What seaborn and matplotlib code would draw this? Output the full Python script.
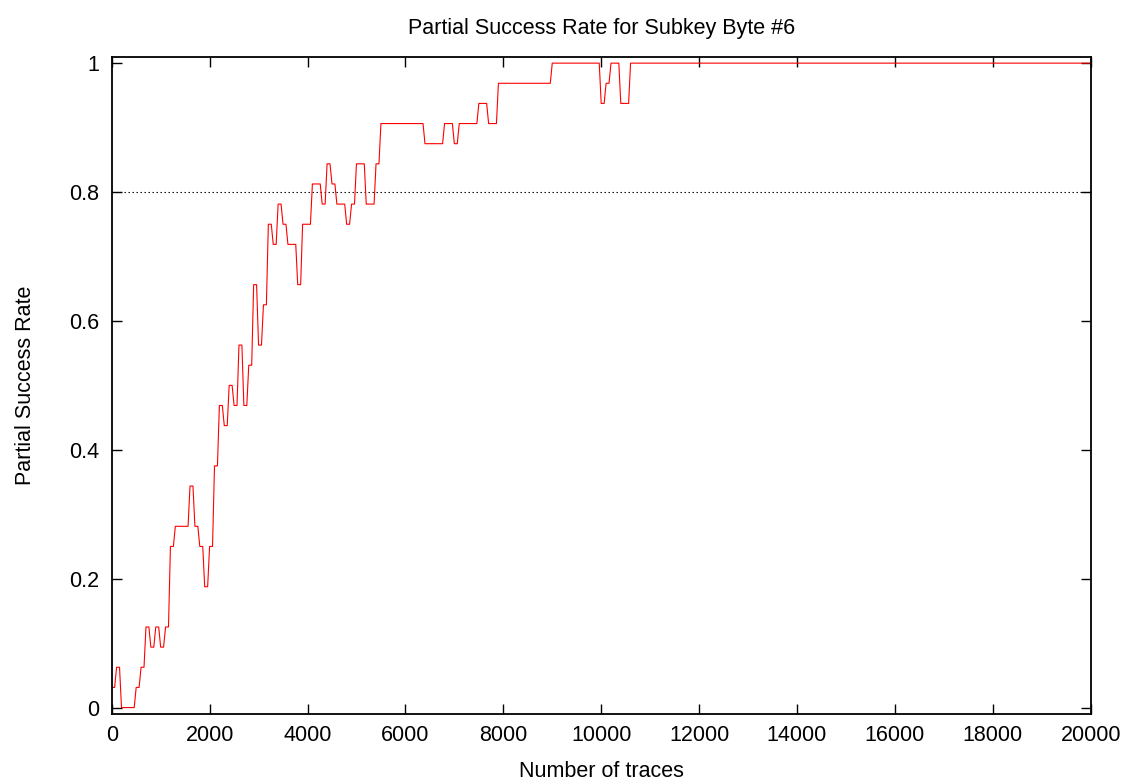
import numpy as np
import pandas as pd
import matplotlib
matplotlib.use("Agg")
import matplotlib.pyplot as plt
import seaborn as sns

# Partial success rate (in units of 1/32) sampled every 100 traces
trace_step = 100
rate_32nds = (
    [1, 2, 0, 0, 0, 1, 2, 4, 3, 4, 3, 4,
     8, 9, 9, 9, 11, 9, 8, 6, 8, 12, 15, 14, 16, 15, 18, 15, 17,
     21, 18, 20, 24, 23, 25, 24, 23, 23, 21, 24, 24, 26, 26, 25,
     27, 26, 25, 25, 24, 25, 27, 27, 25, 25, 27]
    + [29] * 9 + [28] * 4 + [29, 29, 28] + [29] * 4 + [30, 30, 29, 29]
    + [31] * 11 + [32] * 10 + [30, 31, 32, 32, 30, 30]
    + [32] * 95
)
threshold = 0.8

title = "Partial Success Rate for Subkey Byte #6"
xlabel = "Number of traces"
ylabel = "Partial Success Rate"
xticks = list(range(0, 20001, 2000))
yticks = [0, 0.2, 0.4, 0.6, 0.8, 1]

# each sample is held for a short stretch before moving to the next one
rates = np.array(rate_32nds) / 32.0
starts = np.arange(len(rates)) * trace_step
hold = 0.6 * trace_step
xs = np.column_stack([starts, starts + hold]).ravel()
ys = np.repeat(rates, 2)
df = pd.DataFrame({"traces": xs, "rate": ys})

sns.set_theme(style="white")
plt.rcParams["font.family"] = ["Liberation Sans", "DejaVu Sans"]

fs = 15.5
fig = plt.figure(figsize=(11.34, 7.84), dpi=100)
ax = fig.add_axes([111.7 / 1134, 1 - 714 / 784, 979 / 1134, 657.3 / 784])

ax.axhline(threshold, color="black", lw=0.8, dashes=(1.25, 2.35), zorder=1)
sns.lineplot(data=df, x="traces", y="rate", ax=ax, color="#ff0000",
             lw=0.8, estimator=None, sort=False, zorder=2)

ax.set_xlim(0, 20000)
ax.set_ylim(-0.01, 1.01)
ax.set_xticks(xticks)
ax.set_xticklabels([str(t) for t in xticks])
ax.set_yticks(yticks)
ax.set_yticklabels([f"{t:g}" for t in yticks])

for side in ax.spines.values():
    side.set_visible(True)
    side.set_color("black")
    side.set_linewidth(1.3)

ax.tick_params(axis="both", which="major", direction="in", length=7,
               width=1, color="black", labelsize=fs, labelcolor="black",
               top=True, right=True, bottom=True, left=True)
ax.tick_params(axis="x", pad=8)
ax.tick_params(axis="y", pad=9)

ax.set_title(title, fontsize=fs, color="black", pad=16)
ax.set_xlabel(xlabel, fontsize=fs, color="black", labelpad=11)
ax.set_ylabel(ylabel, fontsize=fs, color="black", labelpad=24)
ax.grid(False)

fig.savefig("out.png", dpi=100, facecolor="white")
